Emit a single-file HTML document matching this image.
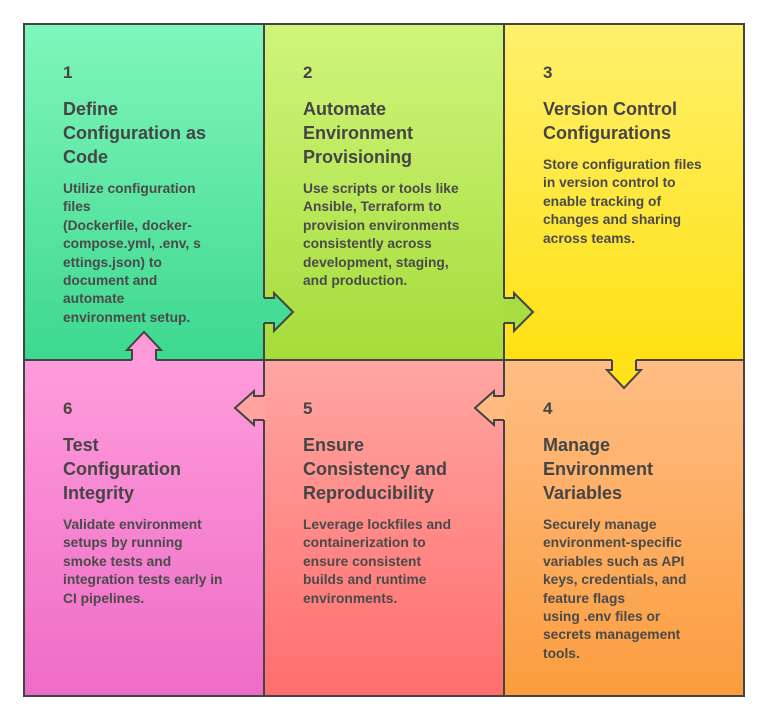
<!DOCTYPE html>
<html><head><meta charset="utf-8"><style>
body{margin:0;width:766px;height:720px;background:#fff;overflow:hidden;font-family:"Liberation Sans",sans-serif;}
svg{position:absolute;left:0;top:0}
.t{position:absolute;color:#454545;font-weight:bold;width:190px}
.n{font-size:17px;line-height:20px}
.h{font-size:18px;line-height:24px;margin-top:14px}
.b{font-size:13.8px;line-height:18.4px;margin-top:11px;color:#4a4a4a}
</style></head><body>
<svg width="766" height="720">
<defs>
<linearGradient id="g1" x1="0" y1="0" x2="0" y2="1"><stop offset="0" stop-color="#80f6bb"/><stop offset="1" stop-color="#3dd88f"/></linearGradient>
<linearGradient id="g2" x1="0" y1="0" x2="0" y2="1"><stop offset="0" stop-color="#d0f57c"/><stop offset="1" stop-color="#a5dc3a"/></linearGradient>
<linearGradient id="g3" x1="0" y1="0" x2="0" y2="1"><stop offset="0" stop-color="#fff06c"/><stop offset="1" stop-color="#ffe114"/></linearGradient>
<linearGradient id="g4" x1="0" y1="0" x2="0" y2="1"><stop offset="0" stop-color="#ffbd84"/><stop offset="1" stop-color="#fb9d3e"/></linearGradient>
<linearGradient id="g5" x1="0" y1="0" x2="0" y2="1"><stop offset="0" stop-color="#ffa6a2"/><stop offset="1" stop-color="#ff6e6e"/></linearGradient>
<linearGradient id="g6" x1="0" y1="0" x2="0" y2="1"><stop offset="0" stop-color="#ff9cdc"/><stop offset="1" stop-color="#ee6cc6"/></linearGradient>
</defs>
<rect x="24" y="24" width="240" height="336" fill="url(#g1)"/>
<rect x="264" y="24" width="240" height="336" fill="url(#g2)"/>
<rect x="504" y="24" width="240" height="336" fill="url(#g3)"/>
<rect x="504" y="360" width="240" height="336" fill="url(#g4)"/>
<rect x="264" y="360" width="240" height="336" fill="url(#g5)"/>
<rect x="24" y="360" width="240" height="336" fill="url(#g6)"/>
<g stroke="#444" stroke-width="2" fill="none">
<rect x="24" y="24" width="720" height="672"/>
<line x1="264" y1="24" x2="264" y2="696"/>
<line x1="504" y1="24" x2="504" y2="696"/>
<line x1="24" y1="360" x2="744" y2="360"/>
</g>
<g stroke="#444" stroke-width="2" stroke-linejoin="miter">
<polygon points="263,298 274,298 274,293 293,312 274,331 274,323 263,323" fill="#45dc94" stroke="none"/>
<polyline points="264,298 274,298 274,293 293,312 274,331 274,323 264,323" fill="none"/>
<polygon points="503,298 514,298 514,293 533,312 514,331 514,323 503,323" fill="#a9de42" stroke="none"/>
<polyline points="504,298 514,298 514,293 533,312 514,331 514,323 504,323" fill="none"/>
<polygon points="612,359 612,370 607,370 624,388 641,370 636,370 636,359" fill="#ffe21c" stroke="none"/>
<polyline points="612,360 612,370 607,370 624,388 641,370 636,370 636,360" fill="none"/>
<polygon points="505,396 494,396 494,391 475,408 494,425 494,420 505,420" fill="#ffbb82" stroke="none"/>
<polyline points="504,396 494,396 494,391 475,408 494,425 494,420 504,420" fill="none"/>
<polygon points="265,396 254,396 254,391 235,408 254,425 254,420 265,420" fill="#ffa3a0" stroke="none"/>
<polyline points="264,396 254,396 254,391 235,408 254,425 254,420 264,420" fill="none"/>
<polygon points="132,361 132,350 127,350 144,332 161,350 156,350 156,361" fill="#ff9ada" stroke="none"/>
<polyline points="132,360 132,350 127,350 144,332 161,350 156,350 156,360" fill="none"/>
</g>
</svg>
<div class="t" style="left:63px;top:63px"><div class="n">1</div><div class="h">Define<br>Configuration as<br>Code</div><div class="b">Utilize configuration<br>files<br>(Dockerfile, docker-<br>compose.yml, .env, s<br>ettings.json) to<br>document and<br>automate<br>environment setup.</div></div>
<div class="t" style="left:303px;top:63px"><div class="n">2</div><div class="h">Automate<br>Environment<br>Provisioning</div><div class="b">Use scripts or tools like<br>Ansible, Terraform to<br>provision environments<br>consistently across<br>development, staging,<br>and production.</div></div>
<div class="t" style="left:543px;top:63px"><div class="n">3</div><div class="h">Version Control<br>Configurations</div><div class="b">Store configuration files<br>in version control to<br>enable tracking of<br>changes and sharing<br>across teams.</div></div>
<div class="t" style="left:543px;top:399px"><div class="n">4</div><div class="h">Manage<br>Environment<br>Variables</div><div class="b">Securely manage<br>environment-specific<br>variables such as API<br>keys, credentials, and<br>feature flags<br>using .env files or<br>secrets management<br>tools.</div></div>
<div class="t" style="left:303px;top:399px"><div class="n">5</div><div class="h">Ensure<br>Consistency and<br>Reproducibility</div><div class="b">Leverage lockfiles and<br>containerization to<br>ensure consistent<br>builds and runtime<br>environments.</div></div>
<div class="t" style="left:63px;top:399px"><div class="n">6</div><div class="h">Test<br>Configuration<br>Integrity</div><div class="b">Validate environment<br>setups by running<br>smoke tests and<br>integration tests early in<br>CI pipelines.</div></div>
</body></html>
